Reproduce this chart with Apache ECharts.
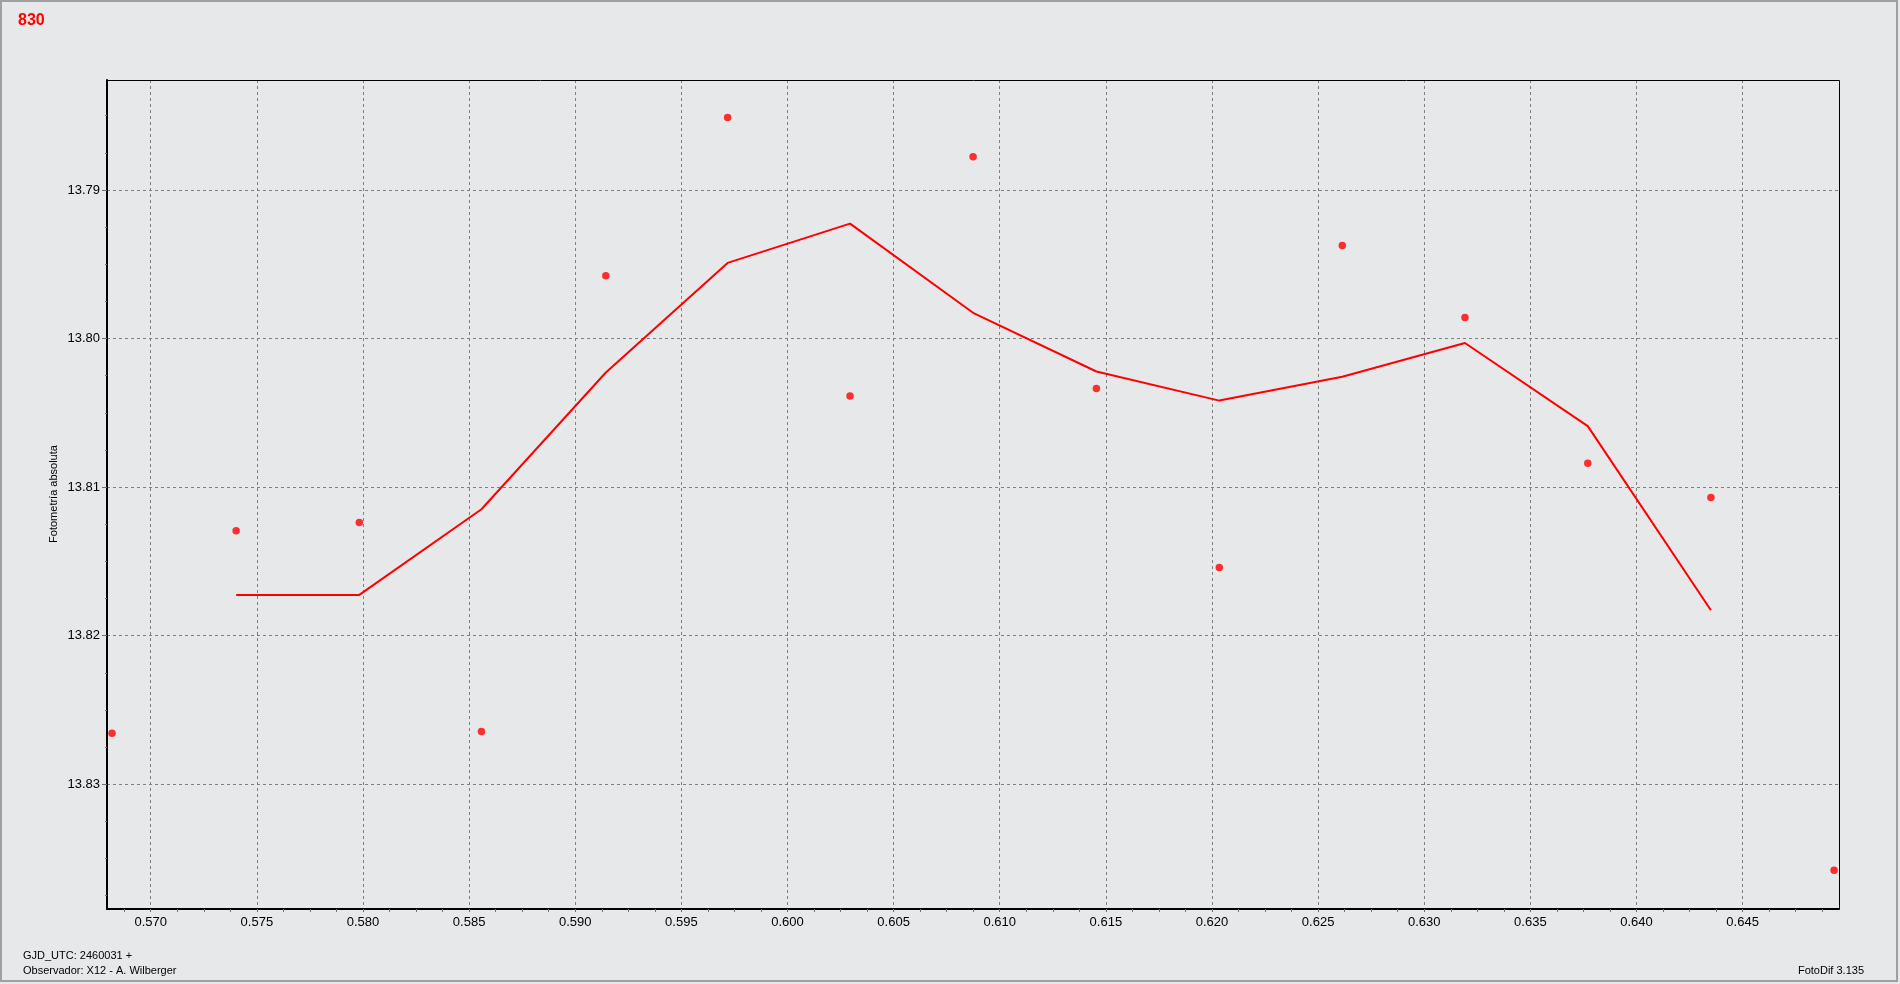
<!DOCTYPE html>
<html>
<head>
<meta charset="utf-8">
<script src="https://cdn.jsdelivr.net/npm/echarts@6/dist/echarts.min.js"></script>
<style>
html,body{margin:0;padding:0;background:#f0f0f0;}
#c{width:1900px;height:984px;}
</style>
</head>
<body>
<div id="c"></div>
<script>
// ---- data ----
const obsX = [0.568176, 0.574025, 0.579827, 0.585582, 0.591442, 0.597179, 0.602947, 0.608744,
              0.614553, 0.620345, 0.626138, 0.631918, 0.637704, 0.643506, 0.649308];
const obsY = [13.82657, 13.81294, 13.81239, 13.82646, 13.79577, 13.78512, 13.80387, 13.78777,
              13.80336, 13.81541, 13.79374, 13.79858, 13.80840, 13.81070, 13.83580];
const avgX = [0.574025, 0.579827, 0.585582, 0.591442, 0.597179, 0.602947, 0.608744,
              0.614553, 0.620345, 0.626138, 0.631918, 0.637704, 0.643506];
const avgY = [13.81726, 13.81726, 13.81149, 13.80229, 13.79491, 13.79227, 13.79827,
              13.80222, 13.80418, 13.80257, 13.80030, 13.80590, 13.81829];
const xTicks = [0.570, 0.575, 0.580, 0.585, 0.590, 0.595, 0.600, 0.605, 0.610, 0.615,
                0.620, 0.625, 0.630, 0.635, 0.640, 0.645];
const yTicks = [13.79, 13.80, 13.81, 13.82, 13.83];
const xRange = [0.56794, 0.64954];
const yRange = [13.7826, 13.8384];
const titleText = '830';
const yName = 'Fotometría absoluta';
const footLeft1 = 'GJD_UTC: 2460031 +';
const footLeft2 = 'Observador: X12 - A. Wilberger';
const footRight = 'FotoDif 3.135';

// minor tick positions (4 subdivisions per major interval)
const xMinor = [];
for (let k = 455; k <= 519; k++) { if (k % 4 !== 0) xMinor.push(+(k * 0.00125).toFixed(5)); }
const yMinor = [];
for (let k = 5514; k <= 5535; k++) { if (k % 4 !== 0) yMinor.push(+(k * 0.0025).toFixed(4)); }

const FONT = 'Liberation Sans';
const chart = echarts.init(document.getElementById('c'), null, {renderer: 'canvas'});

const option = {
  animation: false,
  backgroundColor: '#e7e8ea',
  grid: {left: 107, top: 80, right: 61, bottom: 75, show: false},
  xAxis: [{
    type: 'value', min: xRange[0], max: xRange[1], position: 'bottom',
    axisLine: {show: true, onZero: false, lineStyle: {color: '#000', width: 2}},
    axisTick: {show: true, customValues: xTicks, length: 3, lineStyle: {color: '#707070'}},
    axisLabel: {customValues: xTicks, formatter: v => v.toFixed(3), margin: 7,
                color: '#000', fontSize: 13, fontFamily: FONT},
    splitLine: {show: true, lineStyle: {color: '#808080', type: [3, 3], width: 1}}
  }, {
    type: 'value', min: xRange[0], max: xRange[1], position: 'bottom',
    axisLine: {show: false, onZero: false},
    axisTick: {show: true, customValues: xMinor, length: 3, lineStyle: {color: '#707070'}},
    axisLabel: {show: false},
    splitLine: {show: false}
  }],
  yAxis: [{
    type: 'value', min: yRange[0], max: yRange[1], inverse: true, position: 'left',
    axisLine: {show: true, onZero: false, lineStyle: {color: '#000', width: 2}},
    axisTick: {show: true, customValues: yTicks, length: 5, lineStyle: {color: '#707070'}},
    axisLabel: {customValues: yTicks, formatter: v => v.toFixed(2), margin: 7,
                color: '#000', fontSize: 13, fontFamily: FONT},
    splitLine: {show: true, lineStyle: {color: '#808080', type: [3, 3], width: 1}}
  }, {
    type: 'value', min: yRange[0], max: yRange[1], inverse: true, position: 'left',
    axisLine: {show: false, onZero: false},
    axisTick: {show: true, customValues: yMinor, length: 2, lineStyle: {color: '#707070'}},
    axisLabel: {show: false},
    splitLine: {show: false}
  }],
  series: [{
    type: 'line', xAxisIndex: 0, yAxisIndex: 0,
    data: avgX.map((x, i) => [x, avgY[i]]),
    symbol: 'none', showSymbol: false,
    lineStyle: {color: '#ff0000', width: 2}, z: 3
  }, {
    type: 'scatter', xAxisIndex: 0, yAxisIndex: 0,
    data: obsX.map((x, i) => [x, obsY[i]]),
    symbol: 'circle', symbolSize: 7.5,
    itemStyle: {color: '#ff0000'}, z: 4
  }],
  graphic: [
    {type: 'rect', silent: true, z: 100,
     shape: {x: 1, y: 1, width: 1896, height: 980},
     style: {fill: null, stroke: '#a0a0a0', lineWidth: 2}},
    {type: 'rect', silent: true, z: 100,
     shape: {x: 107.5, y: 80.5, width: 1732, height: 828},
     style: {fill: null, stroke: '#000', lineWidth: 1}},
    {type: 'text', x: 18, y: 21, z: 100,
     style: {text: titleText, fill: '#ff0000', fontSize: 16, fontWeight: 'bold',
             fontFamily: FONT, align: 'left', verticalAlign: 'middle'}},
    {type: 'text', x: 54, y: 494, rotation: Math.PI / 2, z: 100,
     style: {text: yName, fill: '#000', fontSize: 11, fontFamily: FONT,
             align: 'center', verticalAlign: 'middle'}},
    {type: 'text', x: 23, y: 956, z: 100,
     style: {text: footLeft1, fill: '#000', fontSize: 11, fontFamily: FONT,
             align: 'left', verticalAlign: 'middle'}},
    {type: 'text', x: 23, y: 971, z: 100,
     style: {text: footLeft2, fill: '#000', fontSize: 11, fontFamily: FONT,
             align: 'left', verticalAlign: 'middle'}},
    {type: 'text', x: 1864, y: 971, z: 100,
     style: {text: footRight, fill: '#000', fontSize: 11, fontFamily: FONT,
             align: 'right', verticalAlign: 'middle'}}
  ]
};
chart.setOption(option);
</script>
</body>
</html>
